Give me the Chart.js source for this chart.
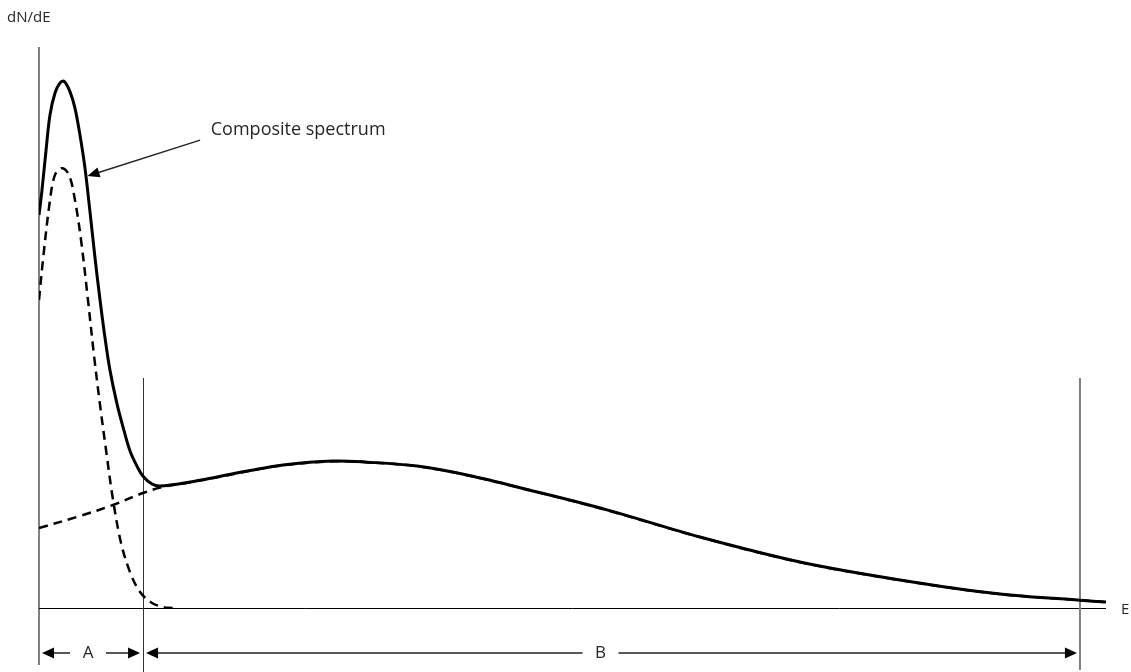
<!DOCTYPE html>
<html>
<head>
<meta charset="utf-8">
<script src="https://cdn.jsdelivr.net/npm/chart.js@4/dist/chart.umd.min.js"></script>
<style>
  html, body { margin: 0; padding: 0; background: #fff; }
  #wrap { width: 1131px; height: 672px; position: relative; }
</style>
</head>
<body>
<div id="wrap"><canvas id="spectrum"></canvas></div>
<script>
// Composite spectrum (solid)
const compositeE = [0, 0.28, 0.66, 1.03, 1.5, 1.97, 2.34, 2.91, 3.37, 3.84, 4.31, 4.78, 5.25, 5.72, 6.19, 6.65, 7.31, 7.97, 8.53, 9.18, 9.75, 10.59, 11.34, 14.15, 16.68, 19.78, 22.87, 27.55, 30.74, 35.43, 40.11, 46.02, 53.23, 61.95, 71.32, 80.69, 90.06, 97.56, 100];
const compositeN = [70.05, 74.5, 81.6, 87.9, 91.8, 93.6, 93.9, 92.0, 89.1, 84.3, 78.4, 70.6, 62.4, 54.9, 48.1, 42.4, 36.4, 31.6, 28.0, 25.3, 23.5, 22.1, 21.75, 22.45, 23.35, 24.5, 25.5, 26.2, 26.0, 25.3, 23.7, 21.0, 17.5, 12.65, 8.2, 5.0, 2.5, 1.4, 1.05];

// Narrow low-energy component (dashed)
const peakE = [0, 0.37, 1.03, 1.5, 2.16, 2.81, 3.37, 3.94, 4.59, 5.15, 5.72, 6.28, 6.94, 7.69, 8.53, 9.47, 10.59, 11.81, 12.93];
const peakN = [54.9, 62.0, 72.7, 77.2, 78.4, 77.2, 72.7, 65.6, 54.9, 45.1, 36.2, 28.2, 19.25, 11.6, 6.4, 2.85, 0.9, 0.1, 0];

// Broad continuum component (dashed)
const continuumE = [0, 3.84, 6.94, 9.75, 11.62, 14.15, 16.68, 19.78, 22.87, 27.55, 30.74, 35.43, 40.11, 46.02, 53.23, 61.95, 71.32, 80.69, 90.06, 97.56, 100];
const continuumN = [14.26, 16.4, 18.36, 20.5, 21.57, 22.4, 23.3, 24.45, 25.45, 26.15, 25.98, 25.27, 23.68, 21.0, 17.44, 12.63, 8.17, 4.96, 2.47, 1.4, 1.04];

// Region boundaries on the energy axis and their labels
const regionEdges = [0, 9.75, 97.56];
const regionLabels = ['A', 'B'];
const regionLabelShift = [-3, -11];
const regionLineTop = 41;

// Callout: label anchor and the point of the composite curve it points to
const calloutText = 'Composite spectrum';
const calloutLabel = { x: 16.1, y: 85.2 };
const calloutStart = { x: 15.1, y: 83.4 };
const calloutTip = { x: 4.55, y: 77.0 };

function toPoints(xs, ys) {
    return xs.map((x, i) => ({ x: x, y: ys[i] }));
}

function arrowHead(ctx, x, y, angle, len, half) {
    ctx.save();
    ctx.translate(x, y);
    ctx.rotate(angle);
    ctx.beginPath();
    ctx.moveTo(0, 0);
    ctx.lineTo(-len, -half);
    ctx.lineTo(-len, half);
    ctx.closePath();
    ctx.fill();
    ctx.restore();
}

const frame = {
    id: 'frame',
    beforeDatasetsDraw(chart) {
        const ctx = chart.ctx;
        const area = chart.chartArea;
        const xs = chart.scales.x;
        const ys = chart.scales.y;
        const x0 = xs.getPixelForValue(0);
        const y0 = ys.getPixelForValue(0);
        ctx.save();
        // vertical dN/dE axis
        ctx.strokeStyle = '#808080';
        ctx.lineWidth = 2;
        ctx.beginPath();
        ctx.moveTo(x0, ys.getPixelForValue(100));
        ctx.lineTo(x0, area.bottom + 57);
        ctx.stroke();
        // energy baseline
        ctx.strokeStyle = '#000';
        ctx.lineWidth = 1;
        ctx.beginPath();
        ctx.moveTo(x0, Math.round(y0) + 0.5);
        ctx.lineTo(xs.getPixelForValue(100), Math.round(y0) + 0.5);
        ctx.stroke();
        // region boundaries
        const top = ys.getPixelForValue(regionLineTop);
        ctx.strokeStyle = '#333';
        ctx.lineWidth = 1;
        let bx = Math.round(xs.getPixelForValue(regionEdges[1])) + 0.5;
        ctx.beginPath();
        ctx.moveTo(bx, top);
        ctx.lineTo(bx, chart.height);
        ctx.stroke();
        ctx.strokeStyle = '#808080';
        ctx.lineWidth = 2;
        bx = xs.getPixelForValue(regionEdges[2]);
        ctx.beginPath();
        ctx.moveTo(bx, top);
        ctx.lineTo(bx, chart.height - 2);
        ctx.stroke();
        ctx.restore();
    },
    afterDraw(chart) {
        const ctx = chart.ctx;
        const area = chart.chartArea;
        const xs = chart.scales.x;
        const ys = chart.scales.y;
        ctx.save();
        ctx.fillStyle = '#262626';
        ctx.textBaseline = 'middle';
        ctx.textAlign = 'left';
        ctx.font = '15px "Open Sans"';
        ctx.fillText('dN/dE', 7, 18);
        ctx.fillText('E', xs.getPixelForValue(100) + 15, ys.getPixelForValue(0) + 2);

        // callout
        ctx.font = '18px "Open Sans"';
        ctx.fillText(calloutText, xs.getPixelForValue(calloutLabel.x), ys.getPixelForValue(calloutLabel.y));
        const sx = xs.getPixelForValue(calloutStart.x), sy = ys.getPixelForValue(calloutStart.y);
        const tx = xs.getPixelForValue(calloutTip.x), ty = ys.getPixelForValue(calloutTip.y);
        const ang = Math.atan2(ty - sy, tx - sx);
        ctx.strokeStyle = '#262626';
        ctx.lineWidth = 1.5;
        ctx.beginPath();
        ctx.moveTo(sx, sy);
        ctx.lineTo(tx - 10 * Math.cos(ang), ty - 10 * Math.sin(ang));
        ctx.stroke();
        ctx.fillStyle = '#000';
        arrowHead(ctx, tx, ty, ang, 12, 5);

        // A / B dimension arrows
        const ay = area.bottom + 45;
        ctx.font = '17px "Open Sans"';
        ctx.textAlign = 'center';
        for (let i = 0; i < regionLabels.length; i++) {
            const l = xs.getPixelForValue(regionEdges[i]) + 3;
            const r = xs.getPixelForValue(regionEdges[i + 1]) - 3;
            const mid = (l + r) / 2 + regionLabelShift[i];
            const gap = 18;
            ctx.strokeStyle = '#595959';
            ctx.lineWidth = 2;
            ctx.beginPath();
            ctx.moveTo(l + 8, ay);
            ctx.lineTo(mid - gap, ay);
            ctx.moveTo(mid + gap, ay);
            ctx.lineTo(r - 8, ay);
            ctx.stroke();
            ctx.fillStyle = '#000';
            arrowHead(ctx, l, ay, Math.PI, 12, 5.5);
            arrowHead(ctx, r, ay, 0, 12, 5.5);
            ctx.fillStyle = '#262626';
            ctx.fillText(regionLabels[i], mid, ay);
        }
        ctx.restore();
    }
};

const chart = new Chart(document.getElementById('spectrum'), {
    type: 'line',
    data: {
        datasets: [{
            label: 'Low-energy peak',
            data: toPoints(peakE, peakN),
            borderColor: '#000',
            borderWidth: 2.5,
            borderDash: [9, 6],
            pointRadius: 0,
            tension: 0.35,
            fill: false
        }, {
            label: 'Continuum',
            data: toPoints(continuumE, continuumN),
            borderColor: '#000',
            borderWidth: 2.5,
            borderDash: [9, 6],
            pointRadius: 0,
            tension: 0.35,
            fill: false
        }, {
            label: 'Composite spectrum',
            data: toPoints(compositeE, compositeN),
            borderColor: '#000',
            borderWidth: 3,
            pointRadius: 0,
            tension: 0.35,
            fill: false
        }]
    },
    options: {
        responsive: true,
        maintainAspectRatio: false,
        animation: false,
        layout: { padding: { left: 39, right: 25, top: 47, bottom: 64 } },
        scales: {
            x: { type: 'linear', min: 0, max: 100, display: false },
            y: { type: 'linear', min: 0, max: 100, display: false }
        },
        plugins: {
            legend: { display: false },
            tooltip: { enabled: false }
        }
    },
    plugins: [frame]
});
</script>
</body>
</html>
